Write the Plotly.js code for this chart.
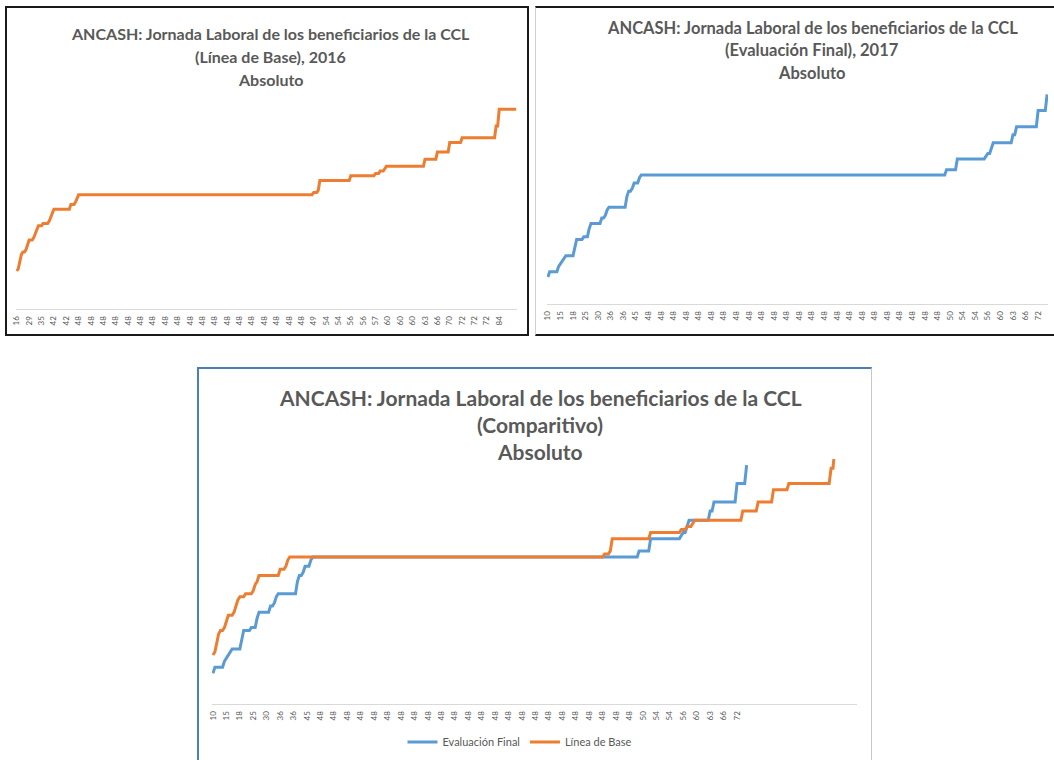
<!DOCTYPE html>
<html>
<head>
<meta charset="utf-8">
<script src="https://cdn.plot.ly/plotly-3.0.1.min.js"></script>
<style>
html,body{margin:0;padding:0;background:#fff;width:1054px;height:760px;overflow:hidden;position:relative;}
.box{position:absolute;box-sizing:border-box;background:#fff;overflow:hidden;}
#b1{left:5px;top:6px;width:524px;height:330px;border:2px solid #1a1a1a;}
#b2{left:535px;top:6px;width:530px;height:330px;border-top:2px solid #1a1a1a;border-bottom:2px solid #1a1a1a;border-left:1px solid #d0d0d0;}
#b3{left:197px;top:367px;width:675px;height:402px;border-top:2px solid #4a7ebb;border-left:2px solid #4a7ebb;border-right:1px solid #c8c8c8;}
</style>
</head>
<body>
<div class="box" id="b1"><div id="c1"></div></div>
<div class="box" id="b2"><div id="c2"></div></div>
<div class="box" id="b3"><div id="c3"></div></div>
<script>
// ---- Data: working hours (sorted) as value / number of beneficiaries ----
// Línea de Base 2016 (top-left panel)
const baseHours  = [16,17,20,23,24,25,27,29,30,32,34,35,36,37,39,40,42,44,45,47,48,49,50,54,56,57,58,59,60,63,66,70,72,77,84];
const baseCounts = [1,1,1,1,2,1,1,3,1,1,1,3,4,1,1,1,11,3,1,1,152,3,1,20,16,3,3,1,25,8,8,8,22,2,12];
// Línea de Base as drawn in the comparative panel (longer 48-hour run)
const baseCountsComp = [1,1,1,1,2,1,1,3,1,1,1,3,4,1,1,1,11,3,1,1,164,3,1,20,16,3,3,1,25,8,8,8,22,2,12];

// Evaluación Final 2017
const finalHours  = [10,12,14,15,16,17,18,21,24,25,28,30,32,33,35,36,40,42,43,45,47,48,50,54,55,56,58,60,63,66,72,78];
const finalCounts = [1,5,1,1,1,1,5,1,4,3,1,6,2,1,1,10,1,2,1,3,1,170,6,16,1,2,1,11,2,12,5,1];

// category-axis labels shown (every 8th / 7th category)
const baseTickLabels  = ['16','29','35','42','42','48','48','48','48','48','48','48','48','48','48','48','48','48','48','48','48','48','48','48','49','54','54','56','56','57','60','60','60','63','66','70','72','72','72','84'];
const finalTickLabels = ['10','15','18','25','30','36','36','45','48','48','48','48','48','48','48','48','48','48','48','48','48','48','48','48','48','48','48','48','48','48','48','48','50','54','54','56','60','63','66','72'];
const baseTickStep = 8;
const finalTickStep = 7;

const seriesNames = ['Evaluación Final', 'Línea de Base'];
const title1 = ['ANCASH: Jornada Laboral de los beneficiarios de la CCL', '(Línea de Base), 2016', 'Absoluto'];
const title2 = ['ANCASH: Jornada Laboral de los beneficiarios de la CCL', '(Evaluación Final), 2017', 'Absoluto'];
const title3 = ['ANCASH: Jornada Laboral de los beneficiarios de la CCL', '(Comparitivo)', 'Absoluto'];

// ---- build series ----
function expand(hours, counts){
  const out = [];
  hours.forEach((h,i)=>{ for(let j=0;j<counts[i];j++) out.push(h); });
  return out;
}
const idx = arr => arr.map((_,i)=>i);
const baseY = expand(baseHours, baseCounts);
const baseCompY = expand(baseHours, baseCountsComp);
const finalY = expand(finalHours, finalCounts);

const ORANGE = '#ED7D31', BLUE = '#5B9BD5', GREY = '#595959';
const FONT = 'Lato, "Open Sans", sans-serif';

function titleAnns(lines, g, cx, ys, size){
  const w = g.W - g.l - g.r, h = g.H - g.t - g.b;
  return lines.map((s,i)=>({
    text: '<b>'+s+'</b>', xref:'paper', yref:'paper',
    x:(cx - g.l)/w, y:(g.H - g.b - ys[i])/h,
    xanchor:'center', yanchor:'middle', showarrow:false,
    font:{family:FONT, size:size, color:GREY}
  }));
}

function makeLayout(g, xr, yr, tickvals, ticktext, anns){
  return {
    width:g.W, height:g.H,
    margin:{l:g.l, r:g.r, t:g.t, b:g.b, pad:0},
    paper_bgcolor:'#fff', plot_bgcolor:'#fff',
    showlegend:false,
    xaxis:{range:xr, showgrid:false, zeroline:false, showline:true, linecolor:'#d9d9d9', linewidth:1,
           tickmode:'array', tickvals:tickvals, ticktext:ticktext, tickangle:-90, ticks:'',
           ticklabelstandoff:3,
           tickfont:{family:FONT, size:8, color:GREY}, fixedrange:true},
    yaxis:{range:yr, visible:false, showgrid:false, zeroline:false, fixedrange:true},
    annotations:anns
  };
}
const cfg = {staticPlot:true, displayModeBar:false};

// ---- Chart 1: Línea de Base ----
const g1 = {W:520, H:326, l:9, r:10, t:87, b:25};
Plotly.newPlot('c1', [{
  x:idx(baseY), y:baseY, type:'scatter', mode:'lines', name:seriesNames[1],
  line:{color:ORANGE, width:3}
}], makeLayout(g1, [-0.5, baseY.length-0.5], [0,90],
   baseTickLabels.map((_,i)=>i*baseTickStep), baseTickLabels,
   titleAnns(title1, g1, 263, [26,48,71], 16)), cfg);

// ---- Chart 2: Evaluación Final ----
const g2 = {W:528, H:326, l:11, r:16, t:81, b:30};
Plotly.newPlot('c2', [{
  x:idx(finalY), y:finalY, type:'scatter', mode:'lines', name:seriesNames[0],
  line:{color:BLUE, width:3}
}], makeLayout(g2, [-0.5, finalY.length-0.5], [0,80],
   finalTickLabels.map((_,i)=>i*finalTickStep), finalTickLabels,
   titleAnns(title2, g2, 276, [20,42,65], 16.5)), cfg);

// ---- Chart 3: Comparativo ----
const g3 = {W:672, H:400, l:13, r:14, t:90, b:65};
const lay3 = makeLayout(g3, [-0.5, baseCompY.length-0.5], [0,80],
   finalTickLabels.map((_,i)=>i*finalTickStep), finalTickLabels,
   titleAnns(title3, g3, 341, [29,55,82], 21));
lay3.showlegend = true;
lay3.legend = {orientation:'h', x:(321-g3.l)/(g3.W-g3.l-g3.r), y:(g3.H-g3.b-373)/(g3.H-g3.t-g3.b),
  xanchor:'center', yanchor:'middle', font:{family:FONT, size:11, color:GREY}, bgcolor:'rgba(0,0,0,0)'};
Plotly.newPlot('c3', [
  {x:idx(finalY), y:finalY, type:'scatter', mode:'lines', name:seriesNames[0], line:{color:BLUE, width:3}},
  {x:idx(baseCompY), y:baseCompY, type:'scatter', mode:'lines', name:seriesNames[1], line:{color:ORANGE, width:3}}
], lay3, cfg);
</script>
</body>
</html>
